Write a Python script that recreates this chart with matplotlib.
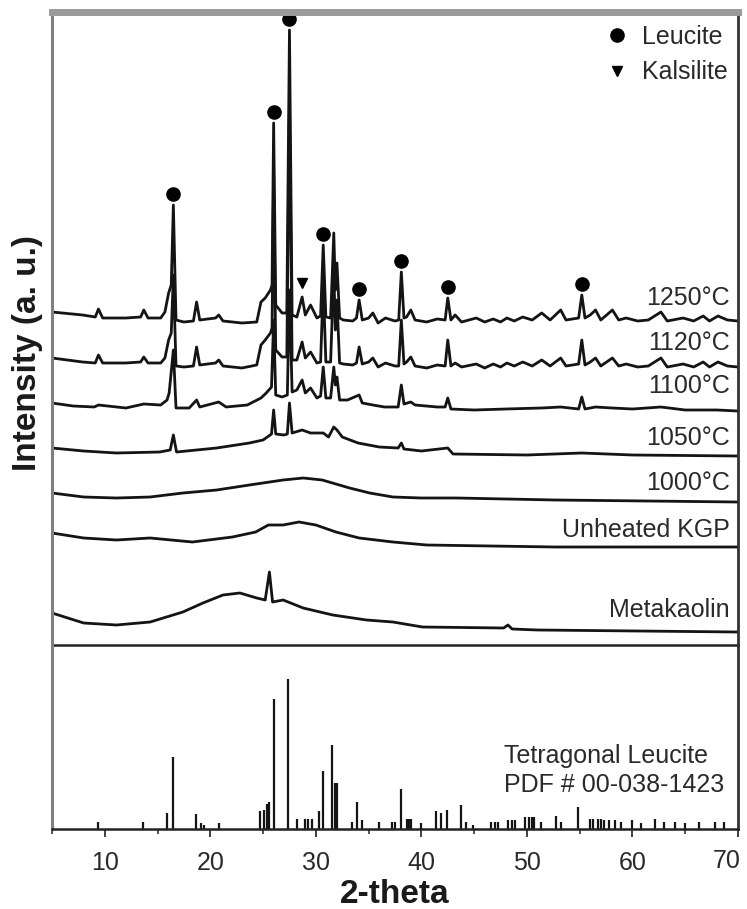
import numpy as np
import matplotlib.pyplot as plt
from matplotlib.lines import Line2D
from matplotlib.ticker import MultipleLocator

plt.rcParams['font.family'] = ['Liberation Sans', 'DejaVu Sans']

# measured XRD patterns, intensity (a.u.) above each pattern's baseline
two_theta_1250 = [5.0, 7.9, 9.1, 9.4, 9.8, 12.0, 13.4, 13.7, 14.1, 15.3, 15.7, 16.05, 16.3, 16.5,
                  16.75, 17.5, 18.4, 18.7, 19.0, 20.5, 20.8, 21.2, 23.0, 24.4, 24.8, 25.2, 25.7,
                  25.85, 26.0, 26.2, 26.8, 27.25, 27.5, 27.75, 28.2, 28.7, 29.0, 29.5, 30.1, 30.45,
                  30.7, 30.95, 31.4, 31.7, 31.85, 32.0, 32.25, 32.6, 33.5, 33.85, 34.1, 34.4, 35.0,
                  35.4, 35.9, 36.6, 37.5, 37.85, 38.1, 38.35, 38.6, 39.0, 39.4, 40.5, 41.5, 42.25,
                  42.5, 42.8, 43.2, 43.8, 45.2, 46.0, 46.8, 47.5, 48.1, 48.8, 49.6, 50.5, 51.4,
                  52.2, 53.2, 53.7, 54.9, 55.2, 55.5, 56.0, 56.5, 57.0, 58.1, 58.7, 59.4, 60.5,
                  61.5, 62.7, 63.3, 64.8, 65.8, 66.7, 67.3, 68.1, 69.0, 70.0]
int_1250 = [13, 10, 8, 16, 7, 7, 8, 15, 7, 7, 13, 32, 40, 120,
            5, 3, 4, 23, 5, 7, 10, 4, 2, 3, 23, 27, 35,
            40, 202, 20, 12, 12, 295, 10, 8, 28, 10, 20, 7, 9,
            80, 8, 7, 92, 35, 62, 7, 5, 4, 7, 25, 5, 7,
            12, 2, 7, 4, 5, 53, 7, 8, 15, 5, 3, 6, 5,
            27, 5, 10, 3, 7, 3, 6, 3, 7, 4, 8, 5, 12,
            5, 15, 5, 7, 30, 7, 10, 15, 5, 15, 5, 7, 4,
            5, 13, 4, 7, 4, 9, 4, 9, 5, 4]

two_theta_1120 = two_theta_1250
int_1120 = [12, 8, 7, 15, 7, 7, 8, 13, 7, 7, 12, 30, 37, 95,
            4, 3, 4, 23, 5, 7, 10, 4, 2, 5, 25, 30, 37,
            42, 195, 20, 13, 13, 270, 10, 10, 28, 12, 18, 7, 8,
            85, 8, 8, 100, 40, 70, 7, 6, 5, 7, 23, 6, 8,
            12, 3, 7, 4, 4, 50, 6, 8, 13, 4, 2, 5, 4,
            30, 4, 7, 3, 6, 2, 6, 3, 7, 4, 8, 4, 10,
            4, 12, 4, 6, 30, 5, 8, 12, 4, 12, 4, 6, 3,
            4, 12, 3, 6, 3, 8, 3, 8, 4, 3]

two_theta_1100 = [5.0, 7.0, 9.0, 9.4, 12.0, 13.7, 15.3, 15.9, 16.1, 16.5, 16.75, 18.0, 18.7,
                  19.0, 20.8, 21.5, 23.5, 24.8, 25.3, 25.8, 26.0, 26.2, 26.8, 27.3, 27.5, 27.75,
                  28.2, 28.7, 29.0, 29.5, 30.1, 30.45, 30.7, 30.95, 31.4, 31.7, 31.85, 32.0,
                  32.25, 33.0, 34.1, 34.4, 35.4, 36.5, 37.8, 38.1, 38.35, 39.0, 39.4, 41.5,
                  42.25, 42.5, 42.8, 45.0, 48.0, 51.4, 53.2, 54.9, 55.2, 55.5, 56.5, 58.1,
                  60.0, 62.7, 65.0, 68.0, 70.0]
int_1100 = [12, 9, 8, 10, 7, 11, 10, 15, 22, 65, 7, 7, 15,
            8, 13, 8, 10, 17, 22, 28, 95, 20, 18, 20, 125, 23,
            25, 35, 22, 27, 17, 19, 48, 17, 17, 48, 30, 38,
            15, 15, 20, 12, 10, 8, 8, 30, 11, 13, 10, 8,
            8, 17, 6, 5, 6, 7, 8, 6, 18, 6, 8, 7,
            6, 8, 5, 5, 4]

two_theta_1050 = [5.0, 8.0, 11.1, 15.2, 16.2, 16.5, 16.8, 20.6, 23.7, 25.0, 25.8, 26.0, 26.2,
                  27.0, 27.3, 27.5, 27.75, 28.7, 29.5, 30.7, 31.2, 31.7, 32.0, 32.5, 34.0,
                  36.0, 37.8, 38.1, 38.35, 40.0, 42.5, 43.0, 50.0, 55.2, 60.0, 70.0]
int_1050 = [12, 9, 7, 8, 10, 25, 8, 12, 17, 20, 26, 50, 26,
            25, 26, 57, 27, 30, 27, 27, 23, 33, 30, 23, 17,
            13, 12, 17, 11, 9, 12, 6, 5, 7, 5, 4]

two_theta_1000 = [5.0, 8.0, 11.1, 14.3, 17.4, 20.6, 23.7, 26.9, 28.8, 30.6, 33.2, 35.1, 37.3,
                  40.0, 43.3, 52.7, 70.0]
int_1000 = [12, 8, 7, 8, 12, 15, 20, 25, 27, 25, 17, 12, 8, 7, 7, 5, 3]

two_theta_kgp = [5.0, 8.0, 11.1, 14.3, 18.3, 22.1, 24.3, 25.5, 26.9, 28.4, 30.0, 31.9, 34.1,
                 37.3, 40.5, 52.7, 70.0]
int_kgp = [17, 12, 10, 12, 8, 13, 18, 25, 25, 28, 25, 18, 12, 8, 5, 3, 3]

two_theta_mk = [5.0, 8.0, 11.1, 14.3, 17.4, 19.3, 21.2, 22.8, 24.4, 25.2, 25.6, 25.9, 26.9,
                28.8, 31.6, 34.8, 37.3, 40.1, 47.8, 48.2, 48.6, 51.0, 70.0]
int_mk = [22, 12, 10, 13, 23, 32, 40, 42, 37, 35, 63, 33, 35,
          27, 20, 15, 13, 8, 7, 10, 6, 5, 3]

sample_names = ['1250°C', '1120°C', '1100°C', '1050°C', '1000°C', 'Unheated KGP', 'Metakaolin']
patterns = [(two_theta_1250, int_1250), (two_theta_1120, int_1120), (two_theta_1100, int_1100),
            (two_theta_1050, int_1050), (two_theta_1000, int_1000), (two_theta_kgp, int_kgp),
            (two_theta_mk, int_mk)]

# phase markers on the 1250 C pattern
leucite_peaks = [16.5, 26.0, 27.5, 30.7, 34.1, 38.1, 42.5, 55.2]
kalsilite_peaks = [28.7]

# reference card: tetragonal leucite PDF 00-038-1423
ref_pos = [9.37, 13.6, 15.9, 16.45, 18.6, 19.1, 19.4, 20.8, 24.7, 25.1, 25.4, 25.6, 26.0, 27.4,
           28.2, 29.0, 29.3, 29.6, 30.3, 30.7, 31.5, 31.8, 31.9, 32.0, 33.4, 33.9, 34.4, 36.0,
           37.2, 37.5, 38.1, 38.6, 38.8, 39.0, 40.0, 41.4, 41.9, 42.4, 43.8, 44.2, 44.9, 46.6,
           47.0, 47.3, 48.2, 48.6, 48.9, 49.8, 50.2, 50.5, 50.7, 51.3, 52.8, 53.2, 54.8, 56.0,
           56.3, 56.7, 57.0, 57.3, 57.8, 58.3, 58.9, 60.0, 60.8, 62.1, 63.0, 64.0, 65.0, 66.3,
           67.8, 68.7]
ref_int = [5, 5, 11, 48, 10, 4, 3, 4, 12, 13, 17, 18, 87, 100,
           7, 7, 7, 7, 12, 39, 56, 31, 31, 31, 5, 18, 6, 5,
           5, 5, 27, 7, 7, 7, 4, 12, 11, 13, 16, 5, 3, 5,
           5, 5, 6, 6, 6, 8, 8, 8, 8, 5, 9, 5, 15, 7,
           7, 7, 7, 6, 6, 6, 5, 6, 4, 7, 5, 5, 4, 5,
           5, 5]

x_ticks = [10, 20, 30, 40, 50, 60, 70]

# stacking and label placement
offsets = [320, 275, 230, 185, 140, 95, 10]
label_y = [340, 295, 252, 200, 155, 108, 28]

ink = '#141414'
txt = '#2a2a2a'
fig = plt.figure(figsize=(7.47, 9.09), dpi=100)
ax = fig.add_axes([52 / 747, 1 - 645 / 909, 686 / 747, 633 / 909])
ax2 = fig.add_axes([52 / 747, 1 - 829 / 909, 686 / 747, 184 / 909], sharex=ax)
ax2.patch.set_visible(False)

for (tt, inten), off, name, ly in zip(patterns, offsets, sample_names, label_y):
    ax.plot(tt, np.array(inten) + off, color=ink, lw=2.0, solid_joinstyle='round')
    ax.text(0.988, ly, name, transform=ax.get_yaxis_transform(), ha='right',
            va='baseline', fontsize=18, color=txt)

tt_top = np.array(two_theta_1250)
int_top = np.array(int_1250) + offsets[0]


def marker_height(pos, gap=11):
    near = np.abs(tt_top - pos) <= 0.3
    return int_top[near].max() + gap


ax.plot(leucite_peaks, [marker_height(p) for p in leucite_peaks], 'o', color='k', ms=9.5)
ax.plot(kalsilite_peaks, [marker_height(p, 14) for p in kalsilite_peaks], 'v', color='k', ms=7)

handles = [Line2D([], [], ls='', marker='o', color='k', ms=9.5),
           Line2D([], [], ls='', marker='v', color='k', ms=7)]
ax.legend(handles, ['Leucite', 'Kalsilite'], loc='upper right', bbox_to_anchor=(1.003, 0.999),
          frameon=False, fontsize=18, handlelength=0.8, handletextpad=0.6, labelspacing=0.45,
          borderpad=0, labelcolor=txt)

ax.set_ylim(0, 633)
ax.set_xlim(5, 70)
ax.set_yticks([])
ax.tick_params(axis='x', which='both', bottom=False, labelbottom=False)

ax2.vlines(ref_pos, 0, ref_int, color=ink, lw=1.6)
ax2.set_ylim(0, 122.7)
ax2.set_yticks([])
ax2.text(47.86, 24.7, 'Tetragonal Leucite\nPDF # 00-038-1423', ha='left', va='baseline',
         fontsize=18, color=txt, linespacing=1.25)

# the last label sits inside the frame, right-aligned on its tick
ax2.set_xticks(x_ticks, [str(t) for t in x_ticks[:-1]] + [''])
ax2.xaxis.set_minor_locator(MultipleLocator(5))
ax2.tick_params(axis='x', which='major', direction='out', length=6, width=1.3,
                color='#333333', labelsize=18, labelcolor=txt, pad=10)
ax2.tick_params(axis='x', which='minor', direction='out', length=3.5, width=1.2,
                color='#333333')
ax2.annotate(str(x_ticks[-1]), xy=(x_ticks[-1], 0), xycoords=('data', 'axes fraction'),
             xytext=(2, -14.5), textcoords='offset points', ha='right', va='top',
             fontsize=18, color=txt)
ax2.set_xlabel('2-theta', fontsize=24, fontweight='bold', color='#1a1a1a', labelpad=3)

for a in (ax, ax2):
    a.spines['left'].set_color('#808080')
    a.spines['left'].set_linewidth(2.2)
    a.spines['right'].set_color('#333333')
    a.spines['right'].set_linewidth(2)
    a.spines['bottom'].set_color('#222222')
    a.spines['bottom'].set_linewidth(1.8)
ax.spines['top'].set_color('#9a9a9a')
ax.spines['top'].set_linewidth(5)
ax2.spines['top'].set_visible(False)

fig.text(28 / 747, 1 - 353 / 909, 'Intensity (a. u.)', rotation=90, ha='center', va='center',
         fontsize=24, fontweight='bold', color='#1a1a1a')

fig.savefig('out.png', dpi=100)
